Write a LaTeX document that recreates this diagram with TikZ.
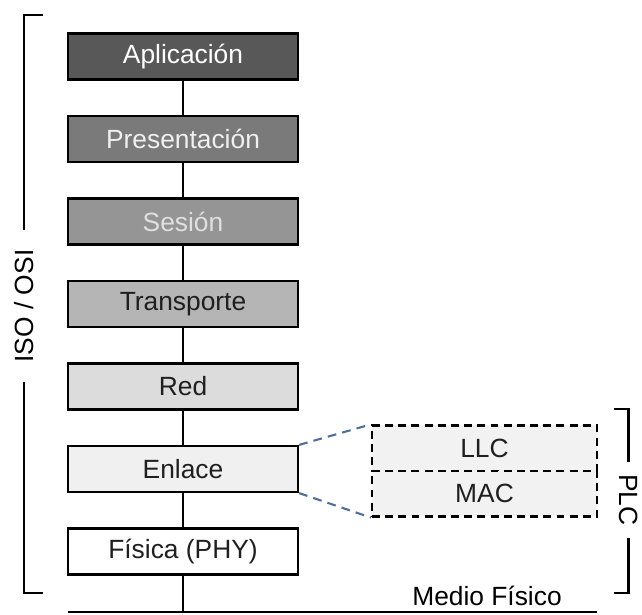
\documentclass[tikz,border=0pt]{standalone}
\usepackage{fontspec}
\setmainfont{Liberation Sans}
\definecolor{capa1}{HTML}{585858}
\definecolor{capa2}{HTML}{7A7A7A}
\definecolor{capa3}{HTML}{959595}
\definecolor{capa4}{HTML}{B5B5B5}
\definecolor{capa5}{HTML}{DCDCDC}
\definecolor{capa6}{HTML}{F0F0F0}
\definecolor{enlaceazul}{HTML}{4F6E9C}
\tikzset{
    capa/.style={draw=black,line width=1.25pt,minimum width=4.6cm,minimum height=.92cm,inner sep=0pt,text=black!88},
    subcapa/.style={capa,dashed,dash pattern=on 4.5pt off 3pt,minimum width=4.5cm,minimum height=.91cm,fill=black!5},
    marca/.style={line width=1.2pt},
}
\begin{document}
\begin{tikzpicture}[font=\fontsize{15}{18}\selectfont]
        \useasboundingbox (0,0) rectangle (12.84,12.3);
        \node[capa,fill=capa1,text=white] (app) at (3.66,11.17) {Aplicación};
        \node[capa,fill=capa2,text=black!6] (pre) at (3.66,9.52) {Presentación};
        \node[capa,fill=capa3,text=black!12] (ses) at (3.66,7.87) {Sesión};
        \node[capa,fill=capa4] (tra) at (3.66,6.22) {Transporte};
        \node[capa,fill=capa5] (red) at (3.66,4.57) {Red};
        \node[capa,fill=capa6] (enl) at (3.66,2.92) {Enlace};
        \node[capa,fill=white] (fis) at (3.66,1.27) {Física (PHY)};
        \foreach \a/\b in {app/pre,pre/ses,ses/tra,tra/red,red/enl,enl/fis}
        {
            \draw[marca] (\a) -- (\b);
        }
        \node[subcapa] (llc) at (9.69,3.335) {LLC};
        \node[subcapa] (mac) at (9.69,2.425) {MAC};
        \draw[enlaceazul,line width=1.2pt,dash pattern=on 5pt off 3.5pt] (enl.north east)--(llc.north west);
        \draw[enlaceazul,line width=1.2pt,dash pattern=on 5pt off 3.5pt] (enl.south east)--(mac.south west);
        \coordinate (m0) at (1.36,.06);
        \coordinate (m1) at (11.94,.06);
        \draw[line width=1.7pt] (m0)--(m1);
        \draw[marca] (fis) -- (fis.south |- m0);
        \node (medio) at (9.74,.38) {Medio Físico};
        \node[rotate=90,inner xsep=.38cm] (iso) at (.48,6.18) {ISO / OSI};
        \coordinate (i0) at (.86,12);
        \coordinate (i1) at (.86,.44);
        \draw[marca] (i0) -- (iso.east |- i0) -- (iso.east);
        \draw[marca] (iso.west) -- (iso.west |- i1) -- (i1);
        \node[rotate=-90,inner xsep=.24cm,inner ysep=0pt] (plc) at (12.57,2.3) {PLC};
        \coordinate (p0) at (12.27,4.12);
        \coordinate (p1) at (12.27,.44);
        \draw[marca] (p0) -- (plc.west |- p0) -- (plc.west);
        \draw[marca] (plc.east) -- (plc.east |- p1) -- (p1);
    \end{tikzpicture}
\end{document}
